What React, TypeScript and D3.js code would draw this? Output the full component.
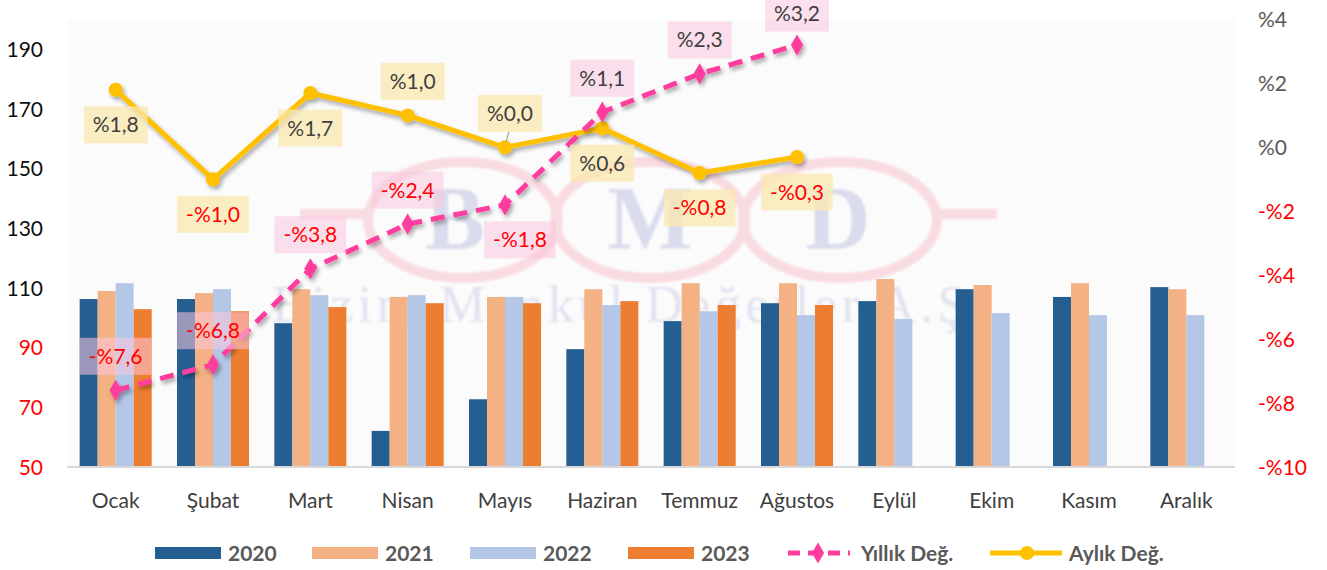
import React from 'react';
import * as d3 from 'd3';

const months = ['Ocak', 'Şubat', 'Mart', 'Nisan', 'Mayıs', 'Haziran', 'Temmuz', 'Ağustos', 'Eylül', 'Ekim', 'Kasım', 'Aralık'];
const years = ['2020', '2021', '2022', '2023'];
const v2020 = [106.3, 106.3, 98.2, 62.1, 72.7, 89.5, 98.9, 104.9, 105.6, 109.6, 107.0, 110.3];
const v2021 = [109.0, 108.3, 109.6, 107.0, 107.0, 109.6, 111.6, 111.6, 113.0, 111.0, 111.6, 109.6];
const v2022 = [111.6, 109.6, 107.6, 107.6, 107.0, 104.3, 102.2, 100.9, 99.6, 101.6, 100.9, 100.9];
const v2023: (number | null)[] = [102.9, 102.2, 103.6, 104.9, 104.9, 105.6, 104.3, 104.3, null, null, null, null];
const yillik = [-7.6, -6.8, -3.8, -2.4, -1.8, 1.1, 2.3, 3.2];
const aylik = [1.8, -1.0, 1.7, 1.0, 0.0, 0.6, -0.8, -0.3];
const leftTicks = [50, 70, 90, 110, 130, 150, 170, 190];
const rightTicks = [-10, -8, -6, -4, -2, 0, 2, 4];

// label placement (layout only)
const yillikPlace = ['above', 'above', 'above', 'above', 'below', 'above', 'above', 'above'];
const yillikNudge = [0, 0, 0, 0, 15, 0, 0, 0];
const aylikPlace = ['below', 'below', 'below', 'above', 'above', 'below', 'below', 'below'];
const aylikNudge = [0, 0, 0, 5, 5, 0, 0, 0];

const barColors = ['#255e91', '#f4b183', '#b4c7e7', '#ed7d31'];
const PINK = '#ff3d9e';
const GOLD = '#ffc000';
const FONT = 'Lato, "Open Sans", sans-serif';
const SERIF = '"Liberation Serif", "DejaVu Serif", serif';

const W = 1327, H = 570;
const L = 67, R = 1235, T = 19.5, B = 467;

function fmt(v: number) {
  return (v < 0 ? '-' : '') + '%' + Math.abs(v).toFixed(1).replace('.', ',');
}
function fmtTick(v: number) {
  return (v < 0 ? '-' : '') + '%' + Math.abs(v);
}

let ctx: CanvasRenderingContext2D | null = null;
function textW(s: string, font: string) {
  try {
    if (!ctx) ctx = document.createElement('canvas').getContext('2d');
    if (ctx) { ctx.font = font; return ctx.measureText(s).width; }
  } catch (e) {}
  return s.length * 11;
}

export default function App() {
  const x = d3.scaleBand<string>().domain(months).range([L, R]).paddingInner(0.26).paddingOuter(0.13);
  const xs = d3.scaleBand<string>().domain(years).range([0, x.bandwidth()]);
  const yL = d3.scaleLinear().domain([50, 200]).range([B, T]);
  const yR = d3.scaleLinear().domain([-10, 4]).range([B, T]);
  const cx = (i: number) => (x(months[i]) as number) + x.bandwidth() / 2;
  const series = [v2020, v2021, v2022, v2023];

  const line = d3.line<number>().x((_, i) => cx(i)).y(d => yR(d));
  const diamond = d3.symbol().type(d3.symbolDiamond).size(130)() as string;

  const labelFont = `21px ${FONT}`;
  const renderLabels = (vals: number[], place: string[], nudge: number[], fill: string, op: number) =>
    vals.map((v, i) => {
      const t = fmt(v);
      const w = textW(t, labelFont) + 18;
      const h = 37;
      const px = cx(i), py = yR(v);
      let cy = place[i] === 'above' ? py - 34 : py + 35;
      if (cy < 13) cy = 13;
      const bx = px + nudge[i];
      return (
        <g key={i}>
          <rect x={bx - w / 2} y={cy - h / 2} width={w} height={h} fill={fill} fillOpacity={op} />
          <text x={bx} y={cy} dy="0.36em" textAnchor="middle" fontSize={21} fontFamily={FONT}
            fill={v < 0 ? '#ff0000' : '#404040'}>{t}</text>
        </g>
      );
    });

  const legendY = 553;
  const legendBars = [155, 312, 470, 628];

  return (
    <svg width={W} height={H} style={{ position: 'absolute', left: 0, top: 0, background: '#fff' }}>
      <defs>
        <filter id="sh" x="-20%" y="-20%" width="140%" height="140%">
          <feDropShadow dx="2" dy="3" stdDeviation="2" floodColor="#000" floodOpacity="0.35" />
        </filter>
        <filter id="soft" x="-10%" y="-10%" width="120%" height="120%">
          <feGaussianBlur stdDeviation="1" />
        </filter>
      </defs>
      <rect x={L} y={T} width={R - L} height={B - T} fill="#fbfbfb" />

      {/* watermark */}
      <g filter="url(#soft)">
        <g fill="none" stroke="#f9dce1" strokeWidth={10}>
          <ellipse cx={463} cy={220} rx={95} ry={58} />
          <ellipse cx={650} cy={220} rx={95} ry={58} />
          <ellipse cx={840} cy={220} rx={97} ry={58} />
          <line x1={300} x2={370} y1={214} y2={214} />
          <line x1={935} x2={997} y1={214} y2={214} />
        </g>
        <g fill="#dadced" fontFamily={SERIF} fontSize={90} fontWeight="bold" textAnchor="middle">
          <text x={455} y={249}>B</text>
          <text x={650} y={249}>M</text>
          <text x={838} y={249}>D</text>
        </g>
        <text x={272} y={322} fill="#e2e3ef" fontFamily={SERIF} fontSize={52}
          textLength={712} lengthAdjust="spacing">Bizim Menkul Değerler A.Ş.</text>
      </g>

      {/* bars */}
      {series.map((vals, si) =>
        vals.map((v, i) => v == null ? null : (
          <rect key={`${si}-${i}`} x={(x(months[i]) as number) + (xs(years[si]) as number)} y={yL(v)}
            width={xs.bandwidth()} height={B - yL(v)} fill={barColors[si]} />
        ))
      )}

      <line x1={L} x2={R} y1={B} y2={B} stroke="#d9d9d9" strokeWidth={2} />

      {/* left axis */}
      {leftTicks.map(t => (
        <text key={t} x={43} y={yL(t)} dy="0.36em" textAnchor="end" fontSize={21} fontFamily={FONT}
          fill={t < 100 ? '#ff0000' : '#0d0d0d'}>{t}</text>
      ))}
      {/* right axis */}
      {rightTicks.map(t => (
        <text key={t} x={1258} y={yR(t)} dy="0.36em" textAnchor="start" fontSize={21} fontFamily={FONT}
          fill={t < 0 ? '#ff0000' : '#595959'}>{fmtTick(t)}</text>
      ))}
      {/* category axis */}
      {months.map((m, i) => (
        <text key={m} x={cx(i)} y={500} dy="0.36em" textAnchor="middle" fontSize={21} fontFamily={FONT}
          fill="#404040">{m}</text>
      ))}

      {/* aylık line */}
      <g filter="url(#sh)">
        <path d={line(aylik) as string} fill="none" stroke={GOLD} strokeWidth={5} strokeLinejoin="round" />
        {aylik.map((v, i) => <circle key={i} cx={cx(i)} cy={yR(v)} r={7} fill={GOLD} />)}
      </g>
      {/* yıllık line */}
      <g filter="url(#sh)">
        <path d={line(yillik) as string} fill="none" stroke={PINK} strokeWidth={5} strokeDasharray="14,9" />
        {yillik.map((v, i) => <path key={i} d={diamond} transform={`translate(${cx(i)},${yR(v)})`} fill={PINK} />)}
      </g>

      {/* leader line for Mayıs aylık */}
      <line x1={cx(4) + 4} y1={yR(aylik[4]) - 16} x2={cx(4) + 1} y2={yR(aylik[4]) - 5} stroke="#a6a6a6" strokeWidth={1.2} />

      {renderLabels(aylik, aylikPlace, aylikNudge, '#fbe8af', 0.75)}
      {renderLabels(yillik, yillikPlace, yillikNudge, '#fcc6de', 0.55)}

      {/* legend */}
      {years.map((yv, i) => (
        <g key={yv}>
          <rect x={legendBars[i]} y={legendY - 6} width={66} height={12} fill={barColors[i]} />
          <text x={legendBars[i] + 73} y={legendY} dy="0.36em" fontSize={21} fontWeight="bold" fontFamily={FONT}
            fill="#595959">{yv}</text>
        </g>
      ))}
      <line x1={786} x2={850} y1={legendY} y2={legendY} stroke={PINK} strokeWidth={5} strokeDasharray="12,8" strokeDashoffset={-2} />
      <path d={diamond} transform={`translate(818,${legendY})`} fill={PINK} />
      <text x={861} y={legendY} dy="0.36em" fontSize={21} fontWeight="bold" fontFamily={FONT} fill="#595959">Yıllık Değ.</text>
      <line x1={990} x2={1062} y1={legendY} y2={legendY} stroke={GOLD} strokeWidth={5} />
      <circle cx={1027} cy={legendY} r={7} fill={GOLD} />
      <text x={1069} y={legendY} dy="0.36em" fontSize={21} fontWeight="bold" fontFamily={FONT} fill="#595959">Aylık Değ.</text>
    </svg>
  );
}
